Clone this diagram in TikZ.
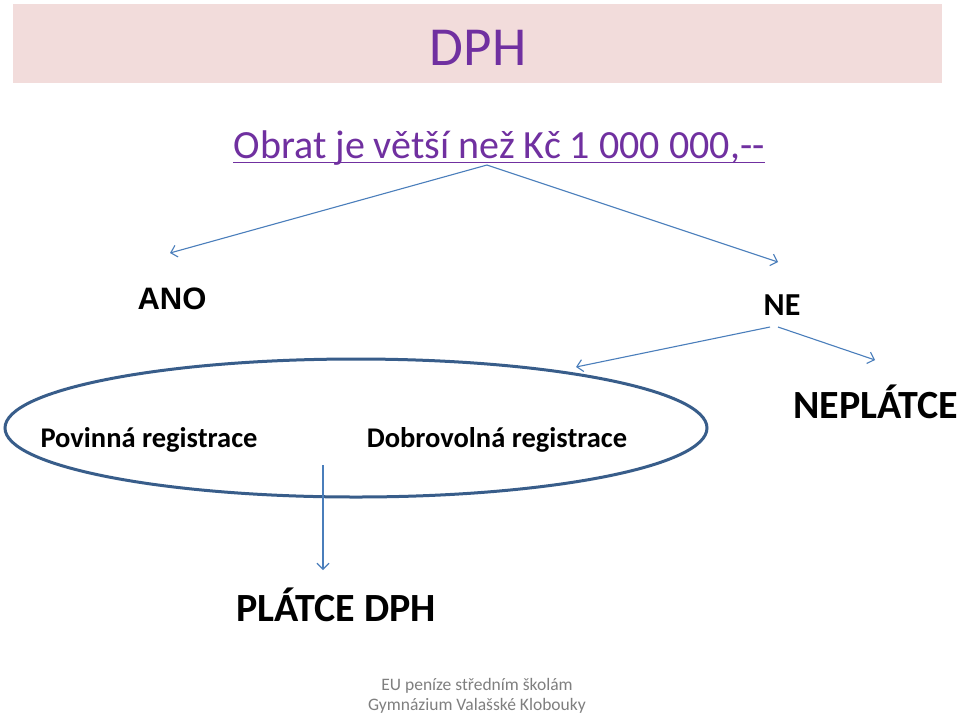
\documentclass[tikz,border=0pt]{standalone}
\usepackage{fontspec}
\setmainfont{Carlito}
\newfontfamily\arialfont{Liberation Sans}
\usetikzlibrary{arrows.meta}
\definecolor{titlepurple}{HTML}{7030A0}
\definecolor{bandpink}{HTML}{F2DCDB}
\definecolor{conn}{HTML}{4A7EBB}
\definecolor{ellblue}{HTML}{385D8A}
\definecolor{footgray}{HTML}{7F7F7F}
\tikzset{
  conn/.style={draw=conn, line width=1.1pt, -{Straight Barb[length=6pt,width=12pt,line width=1.1pt]}},
  lbl/.style={anchor=base, inner sep=0pt, text=black},
  boldlbl/.style={lbl, font=\bfseries},
}
\begin{document}
\begin{tikzpicture}[x=1pt,y=-1pt]
\useasboundingbox (0,0) rectangle (960,713);
\fill[white] (0,0) rectangle (960,713);
% title band
\fill[bandpink] (13,4) rectangle (942,83);
\node[lbl, text=titlepurple, font=\fontsize{55}{60}\selectfont] (title) at (478,65) {DPH};
\node[lbl, text=titlepurple, font=\fontsize{40}{46}\selectfont] (q) at (499,158) {Obrat je větší než Kč 1 000 000,-{}-};
\draw[titlepurple, line width=1.8pt] ([yshift=-4.5pt]q.base west) -- ([yshift=-4.5pt]q.base east);
\coordinate (apex) at (487,165);
% answers
\node[lbl, font=\arialfont\bfseries\fontsize{31}{36}\selectfont] (ano) at (172,309) {ANO};
\node[boldlbl, font=\bfseries\fontsize{32}{36}\selectfont] (ne) at (782,315) {NE};
\coordinate (anotip) at (170,253);
\coordinate (netip) at (778,262);
\draw[conn] (apex) -- (anotip);
\draw[conn] (apex) -- (netip);
% ellipse
\draw[ellblue, line width=3pt] (356,428) ellipse [x radius=351, y radius=69];
\coordinate (ellarrow) at (576,367);
\node[boldlbl, font=\bfseries\fontsize{28.5}{32}\selectfont] (pov) at (149,447) {Povinná registrace};
\node[boldlbl, font=\bfseries\fontsize{28.5}{32}\selectfont] (dob) at (497,447) {Dobrovolná registrace};
\node[boldlbl, font=\bfseries\fontsize{40}{46}\selectfont] (nepl) at (876,418) {NEPLÁTCE};
\coordinate (ne1) at (770,327);
\coordinate (ne2) at (778,327);
\coordinate (nepltip) at (875,360);
\draw[conn] (ne1) -- (ellarrow);
\draw[conn] (ne2) -- (nepltip);
% platce
\node[boldlbl, font=\bfseries\fontsize{40}{46}\selectfont] (pl) at (336,621) {PLÁTCE DPH};
\coordinate (vtop) at (323,465);
\coordinate (vtip) at (323,570);
\draw[conn] (vtop) -- (vtip);
% footer
\node[lbl, text=footgray, font=\fontsize{17.5}{20}\selectfont] (f1) at (477,690) {EU peníze středním školám};
\node[lbl, text=footgray, font=\fontsize{17.5}{20}\selectfont] (f2) at (477,710) {Gymnázium Valašské Klobouky};
\end{tikzpicture}
\end{document}
